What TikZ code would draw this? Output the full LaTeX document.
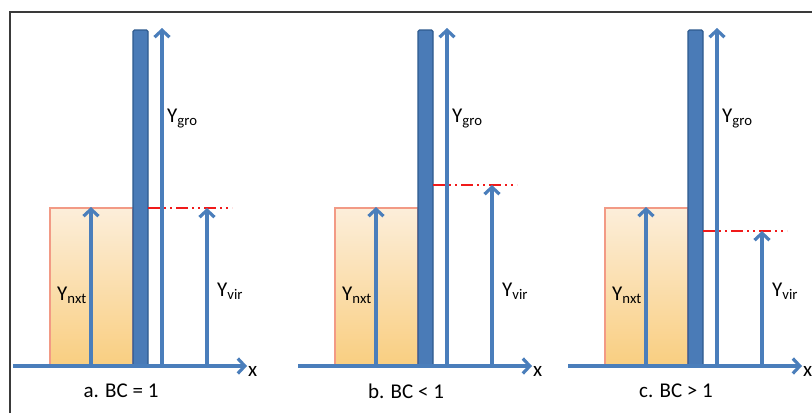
\documentclass[tikz,border=0pt]{standalone}
\usepackage{fontspec}
\setmainfont{Carlito}
\usetikzlibrary{arrows.meta}
\definecolor{barfill}{HTML}{4A7BB7}
\definecolor{bardraw}{HTML}{2E5A8E}
\definecolor{arrowblue}{HTML}{4A7EBB}
\definecolor{orgtop}{HTML}{FCEEDA}
\definecolor{orgbot}{HTML}{F9CE80}
\definecolor{orgdraw}{HTML}{F29A85}
\definecolor{frameg}{HTML}{3A3A3A}
\definecolor{redline}{HTML}{F01A1A}
\tikzset{
  vec/.style={draw=arrowblue, line width=3.4pt, -{Straight Barb[length=7pt,width=15pt,line width=3.2pt]}},
  barbox/.style={fill=barfill, draw=bardraw, line width=1.4pt, rounded corners=1.5pt},
  orgbox/.style={top color=orgtop, bottom color=orgbot, draw=orgdraw, line width=1.2pt},
  bcline/.style={draw=redline, line width=1.6pt, dash pattern=on 12pt off 4pt on 2pt off 4pt on 2pt off 4pt},
  lab/.style={inner sep=0pt, font=\fontsize{21}{25}\selectfont},
  framel/.style={draw=frameg, line width=1.6pt}
}
\newcommand\drawpanel[4]{%
\begin{scope}[xshift=#2pt]
  \coordinate (#1o) at (13,366);
  \coordinate (#1xe) at (247,366);
  \shade[orgbox] (50,208) rectangle (133,366);
  \draw[barbox] (133,30) rectangle (148,366);
  \coordinate (#1gb) at (162,366);
  \coordinate (#1gt) at (162,28);
  \coordinate (#1nb) at (91,366);
  \coordinate (#1nt) at (91,207);
  \coordinate (#1vb) at (207,366);
  \coordinate (#1vt) at (207,#3);
  \coordinate (#1rs) at (148,#3);
  \coordinate (#1re) at (232,#3);
  \draw[bcline] (#1rs) -- (#1re);
  \draw[vec] (#1gb) -- (#1gt);
  \draw[vec] (#1nb) -- (#1nt);
  \draw[vec] (#1vb) -- (#1vt);
  \draw[vec] (#1o) -- (#1xe);
  \node[lab, anchor=base west] (#1lg) at (167,122) {Y\textsubscript{gro}};
  \node[lab, anchor=base west] (#1ln) at (57,300) {Y\textsubscript{nxt}};
  \node[lab, anchor=base west] (#1lv) at (217,296) {Y\textsubscript{vir}};
  \node[lab, anchor=base west] (#1lx) at (248,376) {x};
  \node[lab] (#1cap) at (121,391) {#4};
\end{scope}}
\begin{document}
\begin{tikzpicture}[x=1pt, y=-1pt]
  \useasboundingbox (0,0) rectangle (812,413);
  \fill[white] (0,0) rectangle (812,413);
  \coordinate (fb) at (10,413);
  \coordinate (fc) at (10,12);
  \coordinate (fr) at (812,12);
  \draw[framel] (fb) -- (fc) -- (fr);
  \drawpanel{a}{0}{208}{a. BC = 1}
  \drawpanel{b}{285}{185}{b. BC < 1}
  \drawpanel{c}{555}{231}{c. BC > 1}
\end{tikzpicture}
\end{document}
